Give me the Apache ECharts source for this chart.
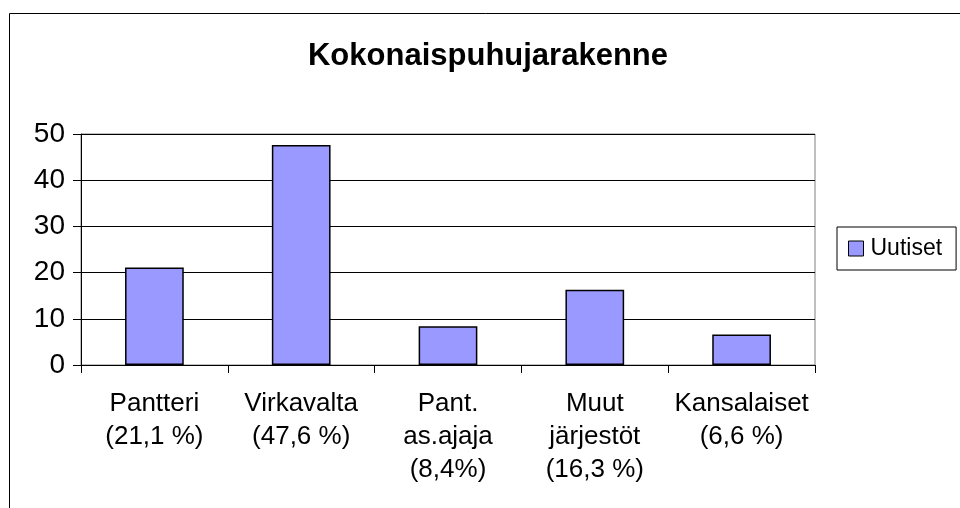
<!DOCTYPE html>
<html>
<head>
<meta charset="utf-8">
<script src="https://cdn.jsdelivr.net/npm/echarts@6/dist/echarts.min.js"></script>
<style>
html,body{margin:0;padding:0;background:#fff;}
#c{width:960px;height:508px;}
</style>
</head>
<body>
<div id="c"></div>
<script>
var titleText = 'Kokonaispuhujarakenne';
var categories = ['Pantteri\n(21,1 %)', 'Virkavalta\n(47,6 %)', 'Pant.\nas.ajaja\n(8,4%)', 'Muut\njärjestöt\n(16,3 %)', 'Kansalaiset\n(6,6 %)'];
var seriesName = 'Uutiset';
var values = [21.1, 47.6, 8.4, 16.3, 6.6];
var yTicks = { min: 0, max: 50, interval: 10 };

var FONT = '"Liberation Sans", Arial, sans-serif';
var chart = echarts.init(document.getElementById('c'), null, { renderer: 'canvas' });
chart.setOption({
  backgroundColor: '#fff',
  animation: false,
  textStyle: { fontFamily: FONT, color: '#000' },
  graphic: [
    { type: 'rect', shape: { x: 9.5, y: 13.5, width: 1000, height: 600 },
      style: { fill: 'none', stroke: '#000', lineWidth: 1 }, z: 0 },
    { type: 'text', x: 488, y: 56,
      style: { text: titleText, font: 'bold 31px ' + FONT, fill: '#000', textAlign: 'center', textVerticalAlign: 'middle' }, z: 10 }
  ],
  grid: { left: 81, right: 145, top: 134, bottom: 143, show: true, borderColor: '#808080', borderWidth: 1, backgroundColor: 'transparent' },
  legend: {
    show: true,
    left: 837, top: 227,
    orient: 'vertical',
    padding: [10, 14, 10, 11],
    borderColor: '#000', borderWidth: 1,
    itemWidth: 15, itemHeight: 15,
    icon: 'rect',
    itemStyle: { borderColor: '#000', borderWidth: 1 },
    textStyle: { fontFamily: FONT, fontSize: 23, color: '#000', lineHeight: 23, padding: [0, 0, 0, 2] },
    data: [seriesName]
  },
  xAxis: {
    type: 'category',
    data: categories,
    axisLine: { show: true, lineStyle: { color: '#000', width: 1 } },
    axisTick: { show: true, length: 8, lineStyle: { color: '#000' } },
    axisLabel: { interval: 0, margin: 22, fontFamily: FONT, fontSize: 26, color: '#000', lineHeight: 33, align: 'center' }
  },
  yAxis: {
    type: 'value',
    min: yTicks.min, max: yTicks.max, interval: yTicks.interval,
    axisLine: { show: true, lineStyle: { color: '#000', width: 1 } },
    axisTick: { show: true, length: 8, lineStyle: { color: '#000' } },
    axisLabel: { margin: 16, fontFamily: FONT, fontSize: 28, color: '#000' },
    splitLine: { show: true, lineStyle: { color: '#000', width: 1 } }
  },
  series: [{
    name: seriesName,
    type: 'bar',
    data: values,
    barCategoryGap: '60%',
    itemStyle: { color: '#9999FF', borderColor: '#000', borderWidth: 1.5 }
  }]
});
</script>
</body>
</html>
